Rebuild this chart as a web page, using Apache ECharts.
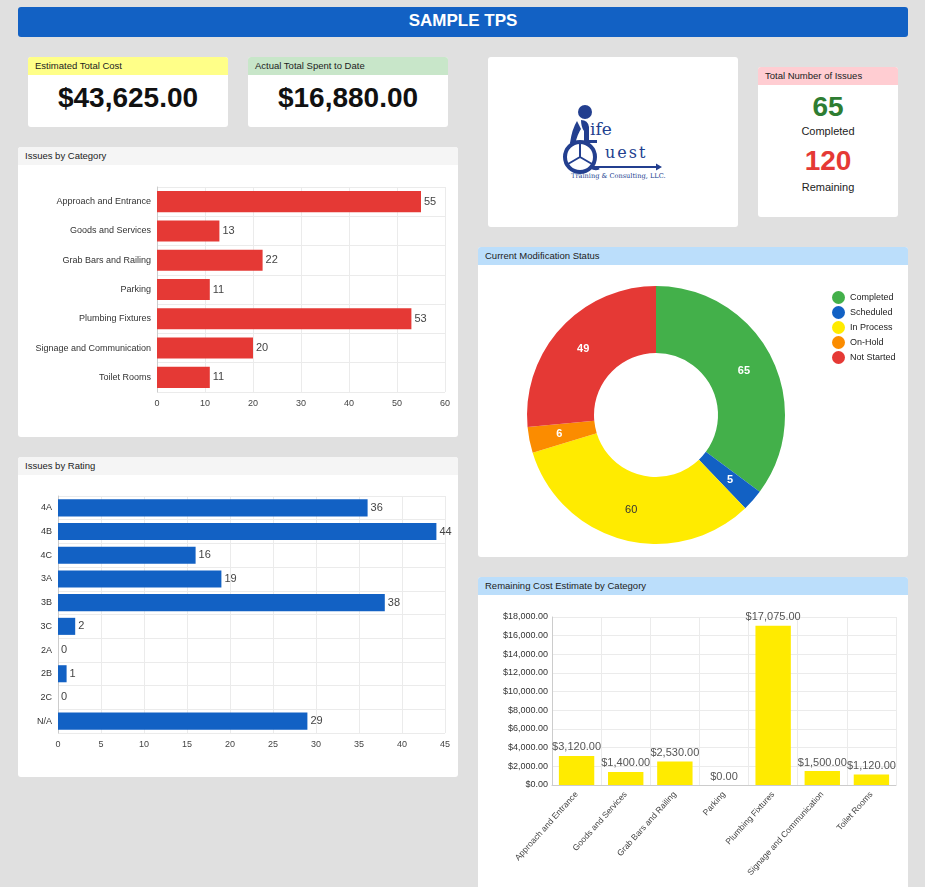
<!DOCTYPE html>
<html>
<head>
<meta charset="utf-8">
<script src="https://cdn.jsdelivr.net/npm/echarts@6/dist/echarts.min.js"></script>
<style>
  html, body { margin: 0; padding: 0; }
  body {
    width: 925px; height: 887px; overflow: hidden;
    background: #e0e0e0; position: relative;
    font-family: Arial, "Liberation Sans", sans-serif; color: #222;
  }
  .box { position: absolute; background: #fff; border-radius: 3px; overflow: hidden; }
  .head { height: 18px; line-height: 18px; font-size: 9.5px; padding-left: 7px; color: #222; }
  .big { font-weight: bold; font-size: 28px; text-align: center; color: #111; }
  .chart { position: absolute; left: 0; right: 0; bottom: 0; top: 18px; }
</style>
</head>
<body>
<div class="box" style="left:18px;top:7px;width:890px;height:30px;background:#1261c4;color:#fff;font-weight:bold;font-size:17px;text-align:center;line-height:28px;">SAMPLE TPS</div>

<div class="box" style="left:28px;top:57px;width:200px;height:70px;">
  <div class="head" style="background:#ffff88;">Estimated Total Cost</div>
  <div class="big" style="margin-top:7px;" id="estCost"></div>
</div>
<div class="box" style="left:248px;top:57px;width:200px;height:70px;">
  <div class="head" style="background:#c8e6c9;">Actual Total Spent to Date</div>
  <div class="big" style="margin-top:7px;" id="actCost"></div>
</div>

<div class="box" style="left:488px;top:57px;width:250px;height:170px;">
  <svg width="250" height="170" viewBox="0 0 250 170">
    <g fill="#233f8f" stroke="none">
      <circle cx="97" cy="55" r="7"/>
      <path d="M89 64 q-5 8 -7 22 l5 1 q3 -11 6 -15 z"/>
      <path d="M93 63 q7 0 8 7 l0 13 l8 0 l0 3 l-13 0 l0 -12 q-3 -4 -3 -11 z"/>
      <text x="102" y="78" font-family="Georgia, 'DejaVu Serif', serif" font-size="17">ife</text>
      <text x="117" y="101" font-family="Georgia, 'DejaVu Serif', serif" font-size="16" letter-spacing="2">uest</text>
      <path d="M105 109 L168 109 L168 106.5 L174 110 L168 113.5 L168 111 L105 111 z"/>
      <text x="83" y="121" font-family="Georgia, 'DejaVu Serif', serif" font-size="6.6">Training &amp; Consulting, LLC.</text>
    </g>
    <g fill="none" stroke="#233f8f">
      <circle cx="92" cy="100" r="15" stroke-width="4"/>
      <path d="M92 100 L92 86 M92 100 L80 107 M92 100 L104 107" stroke-width="2"/>
      <path d="M103 110 q4 3 8 1" stroke-width="3"/>
    </g>
  </svg>
</div>

<div class="box" style="left:758px;top:67px;width:140px;height:150px;text-align:center;">
  <div class="head" style="background:#ffcdd2;text-align:left;">Total Number of Issues</div>
  <div class="big" style="color:#2e7d32;margin-top:7px;line-height:30px;" id="numDone"></div>
  <div style="font-size:11px;margin-top:3px;">Completed</div>
  <div class="big" style="color:#e53935;margin-top:9px;line-height:30px;" id="numLeft"></div>
  <div style="font-size:11px;margin-top:5px;">Remaining</div>
</div>

<div class="box" style="left:18px;top:147px;width:440px;height:290px;">
  <div class="head" style="background:#f5f5f5;">Issues by Category</div>
  <div class="chart" id="catChart"></div>
</div>

<div class="box" style="left:18px;top:457px;width:440px;height:320px;">
  <div class="head" style="background:#f5f5f5;">Issues by Rating</div>
  <div class="chart" id="ratingChart"></div>
</div>

<div class="box" style="left:478px;top:247px;width:430px;height:310px;">
  <div class="head" style="background:#bbdefb;">Current Modification Status</div>
  <div class="chart" id="statusChart"></div>
</div>

<div class="box" style="left:478px;top:577px;width:430px;height:330px;border-radius:3px 3px 0 0;">
  <div class="head" style="background:#bbdefb;">Remaining Cost Estimate by Category</div>
  <div class="chart" id="costChart" style="bottom:20px;"></div>
</div>

<script>
// top cards
var estimatedTotal = 43625;
var actualSpent = 16880;
var issuesCompleted = 65;
var issuesRemaining = 120;

// issues by category
var categories = ["Approach and Entrance", "Goods and Services", "Grab Bars and Railing",
  "Parking", "Plumbing Fixtures", "Signage and Communication", "Toilet Rooms"];
var categoryCounts = [55, 13, 22, 11, 53, 20, 11];

// issues by rating
var ratings = ["4A", "4B", "4C", "3A", "3B", "3C", "2A", "2B", "2C", "N/A"];
var ratingCounts = [36, 44, 16, 19, 38, 2, 0, 1, 0, 29];

// modification status
var statusNames = ["Completed", "Scheduled", "In Process", "On-Hold", "Not Started"];
var statusCounts = [65, 5, 60, 6, 49];
var statusColors = ["#43b04a", "#1261c4", "#ffeb00", "#fb8c00", "#e53935"];

// remaining cost by category
var remainingCost = [3120, 1400, 2530, 0, 17075, 1500, 1120];

function money(v) {
  return "$" + v.toLocaleString("en-US", { minimumFractionDigits: 2, maximumFractionDigits: 2 });
}

document.getElementById("estCost").textContent = money(estimatedTotal);
document.getElementById("actCost").textContent = money(actualSpent);
document.getElementById("numDone").textContent = issuesCompleted;
document.getElementById("numLeft").textContent = issuesRemaining;

var gridLine = { show: true, lineStyle: { color: "#ebebeb" } };
var axisFont = "Arial";

function hbarOption(names, values, color, max, interval, grid) {
  return {
    animation: false,
    grid: grid,
    xAxis: {
      type: "value", min: 0, max: max, interval: interval,
      axisLine: { show: false }, axisTick: { show: false },
      axisLabel: { fontSize: 9, color: "#444", fontFamily: axisFont, margin: 7 },
      splitLine: gridLine
    },
    yAxis: {
      type: "category", data: names, inverse: true,
      axisLine: { show: true, lineStyle: { color: "#ccc" } },
      axisTick: { show: false },
      axisLabel: { fontSize: 9, color: "#333", fontFamily: axisFont, margin: 6 },
      splitLine: gridLine
    },
    series: [{
      type: "bar", data: values, barCategoryGap: "28%",
      itemStyle: { color: color },
      label: { show: true, position: "right", fontSize: 11, color: "#444", fontFamily: axisFont, distance: 3 }
    }]
  };
}

var catChart = echarts.init(document.getElementById("catChart"));
catChart.setOption(hbarOption(categories, categoryCounts, "#e53935", 60, 10,
  { left: 139, right: 13, top: 22, bottom: 45 }));

var ratingChart = echarts.init(document.getElementById("ratingChart"));
ratingChart.setOption(hbarOption(ratings, ratingCounts, "#1261c4", 45, 5,
  { left: 40, right: 13, top: 21, bottom: 44 }));

var statusChart = echarts.init(document.getElementById("statusChart"));
statusChart.setOption({
  animation: false,
  color: statusColors,
  legend: {
    orient: "vertical", left: 349, top: 21, icon: "circle",
    itemWidth: 13, itemHeight: 13, itemGap: 2,
    textStyle: { fontSize: 9, color: "#222", fontFamily: axisFont },
    data: statusNames
  },
  series: [{
    type: "pie", center: [178, 150], radius: [62, 129],
    startAngle: 90, clockwise: true,
    label: {
      show: true, position: "inside", formatter: "{c}", fontSize: 11, fontWeight: "bold",
      fontFamily: axisFont, color: "#fff"
    },
    labelLine: { show: false },
    data: statusNames.map(function (n, i) {
      var d = { name: n, value: statusCounts[i] };
      if (n === "In Process") d.label = { color: "#333", fontWeight: "normal" };
      return d;
    })
  }]
});

var costChart = echarts.init(document.getElementById("costChart"));
costChart.setOption({
  animation: false,
  grid: { left: 74, right: 12, top: 22, bottom: 102 },
  xAxis: {
    type: "category", data: categories,
    axisLine: { lineStyle: { color: "#ccc" } }, axisTick: { show: false },
    axisLabel: { rotate: 48, fontSize: 8.5, color: "#444", fontFamily: axisFont, interval: 0, margin: 8 },
    splitLine: gridLine
  },
  yAxis: {
    type: "value", min: 0, max: 18000, interval: 2000,
    axisLine: { show: true, lineStyle: { color: "#ccc" } }, axisTick: { show: false },
    axisLabel: { fontSize: 9, color: "#333", fontFamily: axisFont, margin: 4, formatter: money },
    splitLine: gridLine
  },
  series: [{
    type: "bar", data: remainingCost, barCategoryGap: "28%",
    itemStyle: { color: "#ffeb00" },
    label: { show: true, position: "top", fontSize: 11, color: "#555", fontFamily: axisFont, distance: 3, formatter: function (p) { return money(p.value); } }
  }]
});
</script>
</body>
</html>
